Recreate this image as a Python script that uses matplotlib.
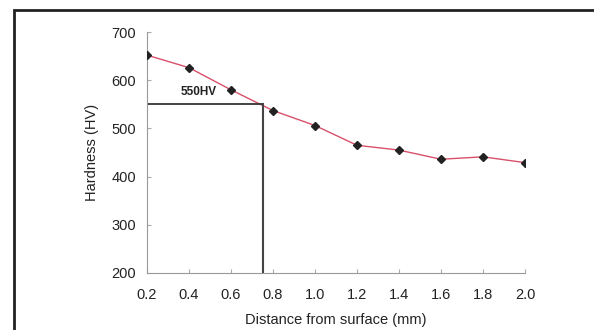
import matplotlib.pyplot as plt
from matplotlib.patches import Rectangle

# Datele
distanta = [0.2, 0.4, 0.6, 0.8, 1.0, 1.2, 1.4, 1.6, 1.8, 2.0]
duritate = [652, 626, 580, 537, 506, 465, 455, 436, 441, 429]
prag_hv = 550
x_prag = 0.75
x_ticks = [0.2, 0.4, 0.6, 0.8, 1.0, 1.2, 1.4, 1.6, 1.8, 2.0]
y_ticks = [200, 300, 400, 500, 600, 700]

plt.rcParams['font.family'] = ['Liberation Sans', 'DejaVu Sans']

fig = plt.figure(figsize=(5.94, 3.3), dpi=100)
ax = fig.add_axes([147 / 594, 1 - 273 / 330, 378 / 594, 241 / 330])

# chenarul negru din jurul figurii
fig.patches.append(Rectangle((14 / 594, -0.1), 1.2, 1 - 10 / 330 + 0.1,
                             transform=fig.transFigure, fill=False,
                             edgecolor='#222222', linewidth=2))

ax.plot(distanta, duritate, '-', color='#d8506a', linewidth=1, zorder=2)
ax.plot(distanta, duritate, 'D', color='#222222', markersize=4.5, zorder=3)

# linia de prag 550HV
ax.plot([0.2, x_prag], [prag_hv, prag_hv], color='#333333', linewidth=1.3)
ax.plot([x_prag, x_prag], [200, prag_hv], color='#444444', linewidth=1.5)
ax.text(0.448, 575, '550HV', fontsize=8.5, fontweight='bold', ha='center', va='center',
        color='#222222')

ax.set_xlim(0.2, 2.0)
ax.set_ylim(200, 700)
ax.set_xticks(x_ticks)
ax.set_xticklabels([f'{v:.1f}' for v in x_ticks])
ax.set_yticks(y_ticks)
ax.tick_params(direction='in', length=3, color='#aaaaaa', labelsize=10.5,
               labelcolor='#222222')
ax.tick_params(axis='x', pad=11)
ax.tick_params(axis='y', pad=8)

for s in ['top', 'right']:
    ax.spines[s].set_visible(False)
for s in ['left', 'bottom']:
    ax.spines[s].set_color('#999999')
    ax.spines[s].set_linewidth(0.8)

ax.set_xlabel('Distance from surface (mm)', fontsize=10.5, labelpad=8, color='#222222')
ax.set_ylabel('Hardness (HV)', fontsize=10.5, labelpad=9, color='#222222')

fig.savefig('out.png', dpi=100)
